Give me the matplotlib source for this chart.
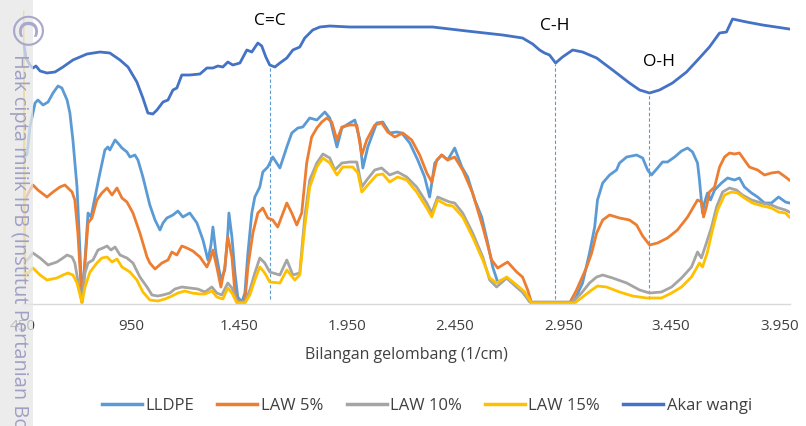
import numpy as np
import matplotlib
matplotlib.use("Agg")
import matplotlib.pyplot as plt
from matplotlib.patches import Rectangle

plt.rcParams['font.family'] = ['Open Sans', 'DejaVu Sans']

# wavenumber (1/cm) and relative transmittance (arbitrary units)
lldpe_x = [459, 469, 482, 506, 519, 543, 566, 589, 612, 630, 654, 667, 681, 700, 714, 723, 737, 751, 765, 774,
           806, 829, 843, 852, 876, 889, 908, 931, 945, 968, 982, 1005, 1014, 1037, 1061, 1084, 1098, 1116, 1144,
           1167, 1190, 1222, 1255, 1283, 1306, 1320, 1329, 1343, 1366, 1384, 1398, 1403, 1417, 1431, 1444, 1463,
           1477, 1491, 1509, 1523, 1546, 1560, 1583, 1606, 1639, 1671, 1694, 1722, 1745, 1777, 1810, 1847, 1870,
           1903, 1926, 1962, 1986, 2009, 2023, 2046, 2087, 2115, 2147, 2180, 2203, 2240, 2277, 2309, 2332, 2356,
           2388, 2416, 2448, 2481, 2508, 2541, 2573, 2601, 2624, 2647, 2689, 2735, 2762, 2804, 2994, 3012, 3040,
           3072, 3096, 3109, 3133, 3165, 3197, 3211, 3244, 3290, 3318, 3341, 3359, 3387, 3410, 3433, 3466, 3498,
           3526, 3549, 3572, 3581, 3595, 3604, 3618, 3632, 3651, 3683, 3711, 3743, 3766, 3789, 3822, 3850, 3882,
           3914, 3947, 3979, 3997]
lldpe_y = [147, 150, 177, 201, 204, 199, 202, 211, 218, 216, 204, 191, 164, 117, 51, 2, 44, 91, 87, 97,
           131, 154, 157, 154, 164, 161, 156, 152, 147, 149, 144, 127, 119, 99, 84, 74, 81, 86, 89,
           93, 87, 91, 81, 64, 44, 59, 77, 51, 24, 34, 71, 91, 67, 31, 7, 2,
           11, 51, 91, 107, 117, 132, 137, 147, 136, 157, 171, 176, 177, 186, 184, 192, 186,
           157, 176, 181, 184, 164, 136, 157, 181, 182, 171, 172, 171, 161, 144, 127, 107, 141,
           149, 144, 156, 137, 127, 104, 87, 61, 37, 22, 26, 17, 12, 1, 1, 8, 21,
           51, 77, 104, 121, 129, 134, 141, 147, 149, 146, 134, 129, 136, 142, 142, 147, 153,
           156, 152, 141, 124, 91, 101, 111, 104, 114, 121, 126, 124, 126, 117, 111, 107, 101,
           101, 107, 102, 101]

law5_x = [459, 482, 496, 519, 561, 589, 621, 644, 677, 690, 704, 718, 723, 737, 751, 769, 792, 815, 839, 862,
          885, 908, 931, 959, 991, 1024, 1037, 1061, 1093, 1121, 1139, 1162, 1185, 1209, 1236, 1269, 1301, 1315,
          1329, 1347, 1366, 1384, 1398, 1417, 1431, 1444, 1477, 1491, 1514, 1537, 1560, 1583, 1606, 1629, 1671,
          1694, 1717, 1740, 1763, 1786, 1810, 1833, 1856, 1879, 1903, 1926, 1962, 1995, 2018, 2041, 2078, 2110,
          2138, 2171, 2208, 2249, 2286, 2319, 2342, 2365, 2388, 2416, 2448, 2485, 2531, 2578, 2619, 2647, 2693,
          2735, 2762, 2786, 2804, 2980, 3012, 3059, 3082, 3105, 3133, 3165, 3211, 3257, 3290, 3318, 3350, 3387,
          3433, 3479, 3526, 3572, 3590, 3600, 3613, 3627, 3651, 3674, 3697, 3720, 3743, 3766, 3789, 3812, 3850,
          3882, 3914, 3947, 3979, 3997]
law5_y = [104, 114, 119, 114, 107, 112, 117, 119, 112, 104, 71, 21, 2, 41, 81, 86, 104, 111, 116, 109,
          116, 106, 102, 91, 71, 47, 41, 35, 41, 44, 52, 49, 58, 56, 53, 47, 37, 44,
          54, 37, 17, 37, 67, 47, 11, 2, 2, 37, 71, 91, 96, 86, 84, 77, 101,
          91, 79, 91, 141, 167, 176, 182, 186, 182, 164, 177, 179, 179, 149, 164, 179, 181,
          172, 167, 171, 164, 149, 131, 122, 144, 149, 144, 147, 134, 111, 77, 44, 36, 42,
          32, 27, 14, 1, 1, 14, 37, 51, 71, 84, 89, 86, 84, 79, 68, 59, 61,
          66, 74, 87, 104, 102, 87, 97, 112, 117, 137, 147, 151, 150, 151, 144, 137, 134,
          129, 131, 132, 127, 124]

law10_x = [459, 482, 496, 529, 566, 607, 635, 654, 677, 690, 709, 723, 737, 751, 774, 797, 820, 839, 857, 876,
           899, 931, 959, 991, 1024, 1047, 1074, 1098, 1130, 1153, 1185, 1222, 1259, 1292, 1324, 1347, 1370, 1398,
           1417, 1440, 1477, 1500, 1523, 1546, 1569, 1592, 1639, 1671, 1699, 1731, 1754, 1777, 1810, 1838, 1870,
           1893, 1926, 1962, 1995, 2018, 2041, 2078, 2110, 2147, 2184, 2226, 2272, 2319, 2342, 2369, 2402, 2425,
           2448, 2485, 2531, 2578, 2610, 2642, 2689, 2735, 2762, 2795, 2994, 3035, 3072, 3105, 3133, 3179, 3244,
           3304, 3350, 3405, 3452, 3498, 3544, 3572, 3590, 3613, 3637, 3660, 3688, 3720, 3752, 3780, 3822, 3868,
           3914, 3947, 3979, 3997]
law10_y = [42, 47, 51, 46, 39, 42, 46, 49, 47, 41, 17, 2, 31, 41, 44, 54, 56, 58, 54, 57,
           49, 46, 41, 27, 17, 9, 8, 9, 11, 15, 17, 16, 15, 12, 17, 11, 9, 21,
           16, 2, 2, 14, 31, 46, 41, 32, 29, 44, 29, 31, 87, 124, 141, 150, 146,
           134, 141, 142, 142, 117, 124, 134, 136, 129, 132, 127, 117, 101, 91, 107, 104, 102,
           101, 91, 71, 47, 24, 17, 26, 17, 12, 2, 2, 11, 21, 27, 29, 26, 21,
           14, 11, 12, 17, 26, 37, 52, 46, 61, 77, 97, 112, 116, 114, 109, 104, 101,
           99, 96, 94, 92]

law15_x = [450, 459, 473, 496, 529, 561, 607, 635, 658, 681, 700, 723, 737, 760, 792, 815, 839, 862, 885, 908,
           945, 977, 1005, 1037, 1074, 1107, 1139, 1167, 1199, 1232, 1269, 1292, 1324, 1347, 1375, 1398, 1417,
           1440, 1477, 1500, 1523, 1546, 1569, 1592, 1639, 1671, 1708, 1731, 1754, 1777, 1810, 1838, 1870, 1903,
           1930, 1976, 2000, 2018, 2046, 2087, 2115, 2147, 2184, 2226, 2272, 2319, 2342, 2369, 2411, 2439, 2485,
           2531, 2578, 2610, 2642, 2689, 2735, 2772, 2804, 3003, 3040, 3082, 3109, 3151, 3211, 3271, 3336, 3405,
           3452, 3498, 3544, 3581, 3595, 3618, 3641, 3665, 3697, 3729, 3757, 3789, 3826, 3873, 3914, 3947, 3979,
           3997]
law15_y = [292, 27, 31, 36, 29, 24, 26, 29, 31, 29, 21, 1, 17, 32, 41, 46, 47, 42, 45, 37,
           32, 24, 12, 4, 3, 5, 8, 11, 13, 11, 10, 10, 13, 7, 5, 16, 11,
           1, 1, 9, 24, 37, 31, 22, 21, 34, 24, 29, 77, 117, 137, 146, 141, 129,
           137, 137, 131, 112, 119, 129, 130, 122, 127, 124, 112, 96, 87, 104, 99, 98, 87,
           67, 44, 26, 21, 27, 19, 12, 1, 1, 7, 14, 18, 17, 12, 8, 6, 6,
           11, 17, 27, 41, 37, 52, 74, 94, 109, 112, 111, 106, 101, 98, 96, 92, 91,
           87]

akar_x = [455, 464, 482, 496, 510, 529, 561, 598, 635, 681, 746, 806, 852, 899, 936, 977, 1005, 1028, 1051, 1070,
          1098, 1121, 1144, 1162, 1185, 1222, 1269, 1301, 1329, 1352, 1375, 1398, 1421, 1454, 1486, 1509, 1537,
          1555, 1574, 1592, 1616, 1639, 1671, 1699, 1731, 1754, 1791, 1824, 1870, 1962, 2194, 2346, 2504, 2670,
          2762, 2809, 2841, 2864, 2887, 2915, 2947, 2994, 3040, 3105, 3179, 3257, 3304, 3350, 3396, 3456, 3521,
          3581, 3627, 3674, 3706, 3734, 3799, 3873, 3997]
akar_y = [259, 246, 239, 236, 238, 233, 231, 232, 237, 244, 250, 252, 251, 244, 237, 222, 206, 191, 190, 194,
          202, 204, 214, 216, 229, 229, 230, 236, 236, 238, 237, 242, 239, 241, 254, 252, 261,
          258, 247, 239, 237, 241, 246, 254, 257, 266, 274, 277, 278, 277, 277, 277, 273, 269,
          266, 260, 254, 251, 249, 241, 247, 254, 252, 246, 234, 221, 214, 211, 214, 221, 232,
          246, 257, 271, 272, 285, 282, 279, 275]

series = [
    ("LLDPE", lldpe_x, lldpe_y, "#5B9BD5"),
    ("LAW 5%", law5_x, law5_y, "#ED7D31"),
    ("LAW 10%", law10_x, law10_y, "#A5A5A5"),
    ("LAW 15%", law15_x, law15_y, "#FFC000"),
    ("Akar wangi", akar_x, akar_y, "#4472C4"),
]

# functional group markers on the Akar wangi spectrum
bands = ["C=C", "C-H", "O-H"]
band_wn = [1592, 2912, 3348]

xticks = [450, 950, 1450, 1950, 2450, 2950, 3450, 3950]

fig = plt.figure(figsize=(8.06, 4.26), dpi=100)
ax = fig.add_axes([23 / 806, 122 / 426, 767 / 806, 300 / 426])

for name, xs, ys, col in series:
    ax.plot(xs, ys, color=col, lw=2.0, label=name, solid_joinstyle="round")

offsets = {"C=C": (0, 32), "C-H": (0, 26), "O-H": (7, 22)}
for b, wn in zip(bands, band_wn):
    top = np.interp(wn, akar_x, akar_y)
    ax.plot([wn, wn], [5, top - 2], color="#5B9BD5", lw=0.8, ls=(0, (3, 2)), zorder=1)
    ax.annotate(b, (wn, top), xytext=offsets[b], textcoords="offset points",
                ha="center", va="center", fontsize=12.5, color="black")

ax.set_xlim(450, 4000)
ax.set_ylim(0, 300)
ax.set_xticks(xticks)
ax.set_xticklabels([f"{v:,}".replace(",", ".") for v in xticks])
ax.tick_params(axis="x", length=0, pad=11, labelsize=11, labelcolor="#404040")
ax.set_yticks([])
for s in ["top", "right", "left"]:
    ax.spines[s].set_visible(False)
ax.spines["bottom"].set_color("#D9D9D9")
ax.spines["bottom"].set_linewidth(1.0)
ax.set_xlabel("Bilangan gelombang (1/cm)", fontsize=11.5, color="#404040", labelpad=9)

leg = fig.legend(loc="center", bbox_to_anchor=(427 / 806, 1 - 406 / 426), ncol=5, frameon=False,
                 fontsize=12, handlelength=2.4, handletextpad=0.2, columnspacing=1.4)
for t in leg.get_texts():
    t.set_color("#404040")
for h in leg.get_lines():
    h.set_linewidth(2.5)

# watermark band on the left edge
fig.patches.append(Rectangle((0, 0), 33 / 806, 1, transform=fig.transFigure,
                             facecolor="#E6E6E6", alpha=0.75, edgecolor="none", zorder=10))
fig.text(18 / 806, 1 - 35 / 426, "\u00a9", rotation=270, ha="center", va="center",
         fontsize=30, color="#A8A8CC", zorder=11, family="DejaVu Sans")
fig.text(19 / 806, 1 - 54 / 426, "Hak cipta milik IPB (Institut Pertanian Bogor)", rotation=270,
         ha="center", va="top", fontsize=14.4, color="#A0A0C4", zorder=11, family="Open Sans")

fig.savefig("out.png", dpi=100)
